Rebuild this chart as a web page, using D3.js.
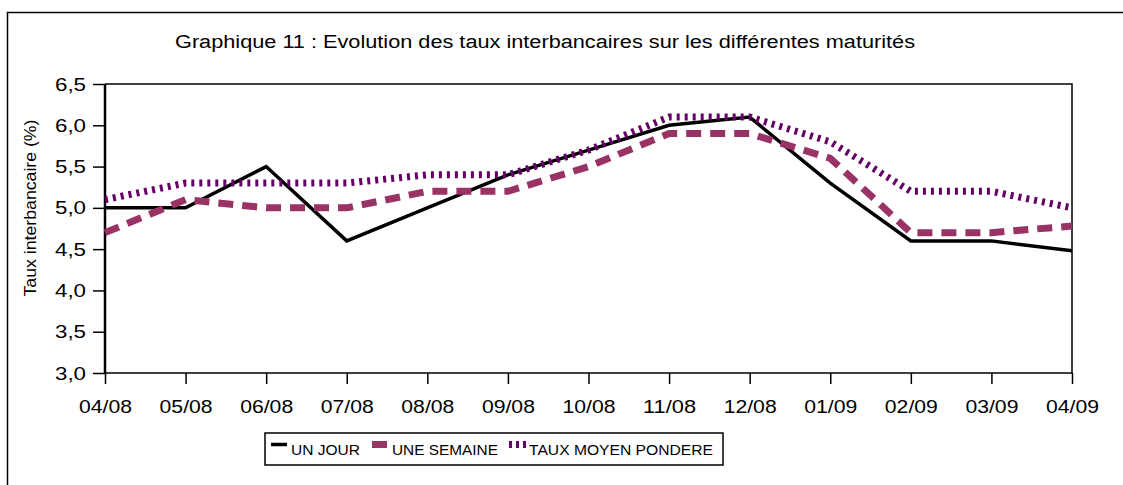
<!DOCTYPE html>
<html>
<head>
<meta charset="utf-8">
<script src="https://cdn.jsdelivr.net/npm/d3@7"></script>
<style>
  html, body { margin: 0; padding: 0; background: #fff; }
  svg { display: block; }
  text { font-family: "Liberation Sans", Arial, sans-serif; fill: #000; }
</style>
</head>
<body>
<svg id="chart" width="1123" height="485"></svg>
<script>
const categories = ["04/08","05/08","06/08","07/08","08/08","09/08","10/08","11/08","12/08","01/09","02/09","03/09","04/09"];
const unJour = [5.0, 5.0, 5.5, 4.6, 5.0, 5.4, 5.7, 6.0, 6.1, 5.3, 4.6, 4.6, 4.48];
const uneSemaine = [4.7, 5.1, 5.0, 5.0, 5.2, 5.2, 5.5, 5.9, 5.9, 5.6, 4.7, 4.7, 4.78];
const tauxMoyen = [5.1, 5.3, 5.3, 5.3, 5.4, 5.4, 5.7, 6.1, 6.1, 5.8, 5.2, 5.2, 5.0];
const yTicks = [3.0, 3.5, 4.0, 4.5, 5.0, 5.5, 6.0, 6.5];
const seriesNames = ["UN JOUR", "UNE SEMAINE", "TAUX MOYEN PONDERE"];
const titleText = "Graphique 11 : Evolution des taux interbancaires sur les différentes maturités";
const yTitle = "Taux interbancaire (%)";

const svg = d3.select("#chart");
const L = 105, R = 1072, T = 84, B = 373;

// outer frame
svg.append("rect").attr("x", 7.5).attr("y", 12.5).attr("width", 1300).attr("height", 700)
  .attr("fill", "none").attr("stroke", "#000").attr("stroke-width", 1.5);

const x = d3.scalePoint().domain(categories).range([L, R]);
const y = d3.scaleLinear().domain([3.0, 6.5]).range([B, T]);

// plot frame top & right
svg.append("path").attr("d", `M${L},${T}H${R}V${B}`).attr("fill", "none").attr("stroke", "#000").attr("stroke-width", 1.5);

// title
svg.append("text").attr("x", 175).attr("y", 48).attr("font-size", 18)
  .attr("textLength", 740).attr("lengthAdjust", "spacingAndGlyphs").text(titleText);

// y axis
const yAxis = d3.axisLeft(y).tickValues(yTicks).tickSize(12).tickPadding(7)
  .tickFormat(d => d3.format(".1f")(d).replace(".", ","));
const gy = svg.append("g").attr("transform", `translate(${L},0)`).call(yAxis);
gy.select(".domain").attr("stroke-width", 2.5).attr("d", `M0,${B}V${T}`);
gy.selectAll(".tick line").attr("stroke-width", 1.5);
gy.selectAll(".tick text").attr("font-size", 19).attr("font-family", "Liberation Sans, Arial, sans-serif")
  .attr("textLength", 31).attr("lengthAdjust", "spacingAndGlyphs");

// x axis
const xAxis = d3.axisBottom(x).tickSize(11).tickPadding(16);
const gx = svg.append("g").attr("transform", `translate(0,${B})`).call(xAxis);
gx.select(".domain").attr("stroke-width", 1.5).attr("d", `M${L},0H${R}`);
gx.selectAll(".tick line").attr("stroke-width", 1.5);
gx.selectAll(".tick text").attr("font-size", 19).attr("font-family", "Liberation Sans, Arial, sans-serif")
  .attr("textLength", 53).attr("lengthAdjust", "spacingAndGlyphs");

// y title
svg.append("text").attr("transform", "translate(36,208) rotate(-90)")
  .attr("text-anchor", "middle").attr("font-size", 16)
  .attr("textLength", 177).attr("lengthAdjust", "spacingAndGlyphs").text(yTitle);

const line = d3.line().x((d, i) => x(categories[i])).y(d => y(d));

const styles = [
  { data: unJour, color: "#000000", width: 3.5, dash: null },
  { data: uneSemaine, color: "#993366", width: 7, dash: "15,9" },
  { data: tauxMoyen, color: "#660066", width: 7, dash: "3,5" }
];

styles.forEach(s => {
  svg.append("path").datum(s.data).attr("d", line)
    .attr("fill", "none").attr("stroke", s.color).attr("stroke-width", s.width)
    .attr("stroke-dasharray", s.dash).attr("stroke-linejoin", "miter");
});

// legend
svg.append("rect").attr("x", 265).attr("y", 433).attr("width", 458).attr("height", 32)
  .attr("fill", "#fff").attr("stroke", "#000").attr("stroke-width", 1.5);

const lg = svg.append("g");
lg.append("line").attr("x1", 271).attr("x2", 287).attr("y1", 444.5).attr("y2", 444.5)
  .attr("stroke", "#000").attr("stroke-width", 3.5);
lg.append("line").attr("x1", 372).attr("x2", 387).attr("y1", 444.5).attr("y2", 444.5)
  .attr("stroke", "#993366").attr("stroke-width", 7);
lg.append("line").attr("x1", 509).attr("x2", 526).attr("y1", 444.5).attr("y2", 444.5)
  .attr("stroke", "#660066").attr("stroke-width", 7).attr("stroke-dasharray", "3,4");

const legendPos = [[291, 69], [392, 106], [529, 184]];
seriesNames.forEach((n, i) => {
  lg.append("text").attr("x", legendPos[i][0]).attr("y", 455).attr("font-size", 15)
    .attr("textLength", legendPos[i][1]).attr("lengthAdjust", "spacingAndGlyphs").text(n);
});
</script>
</body>
</html>
